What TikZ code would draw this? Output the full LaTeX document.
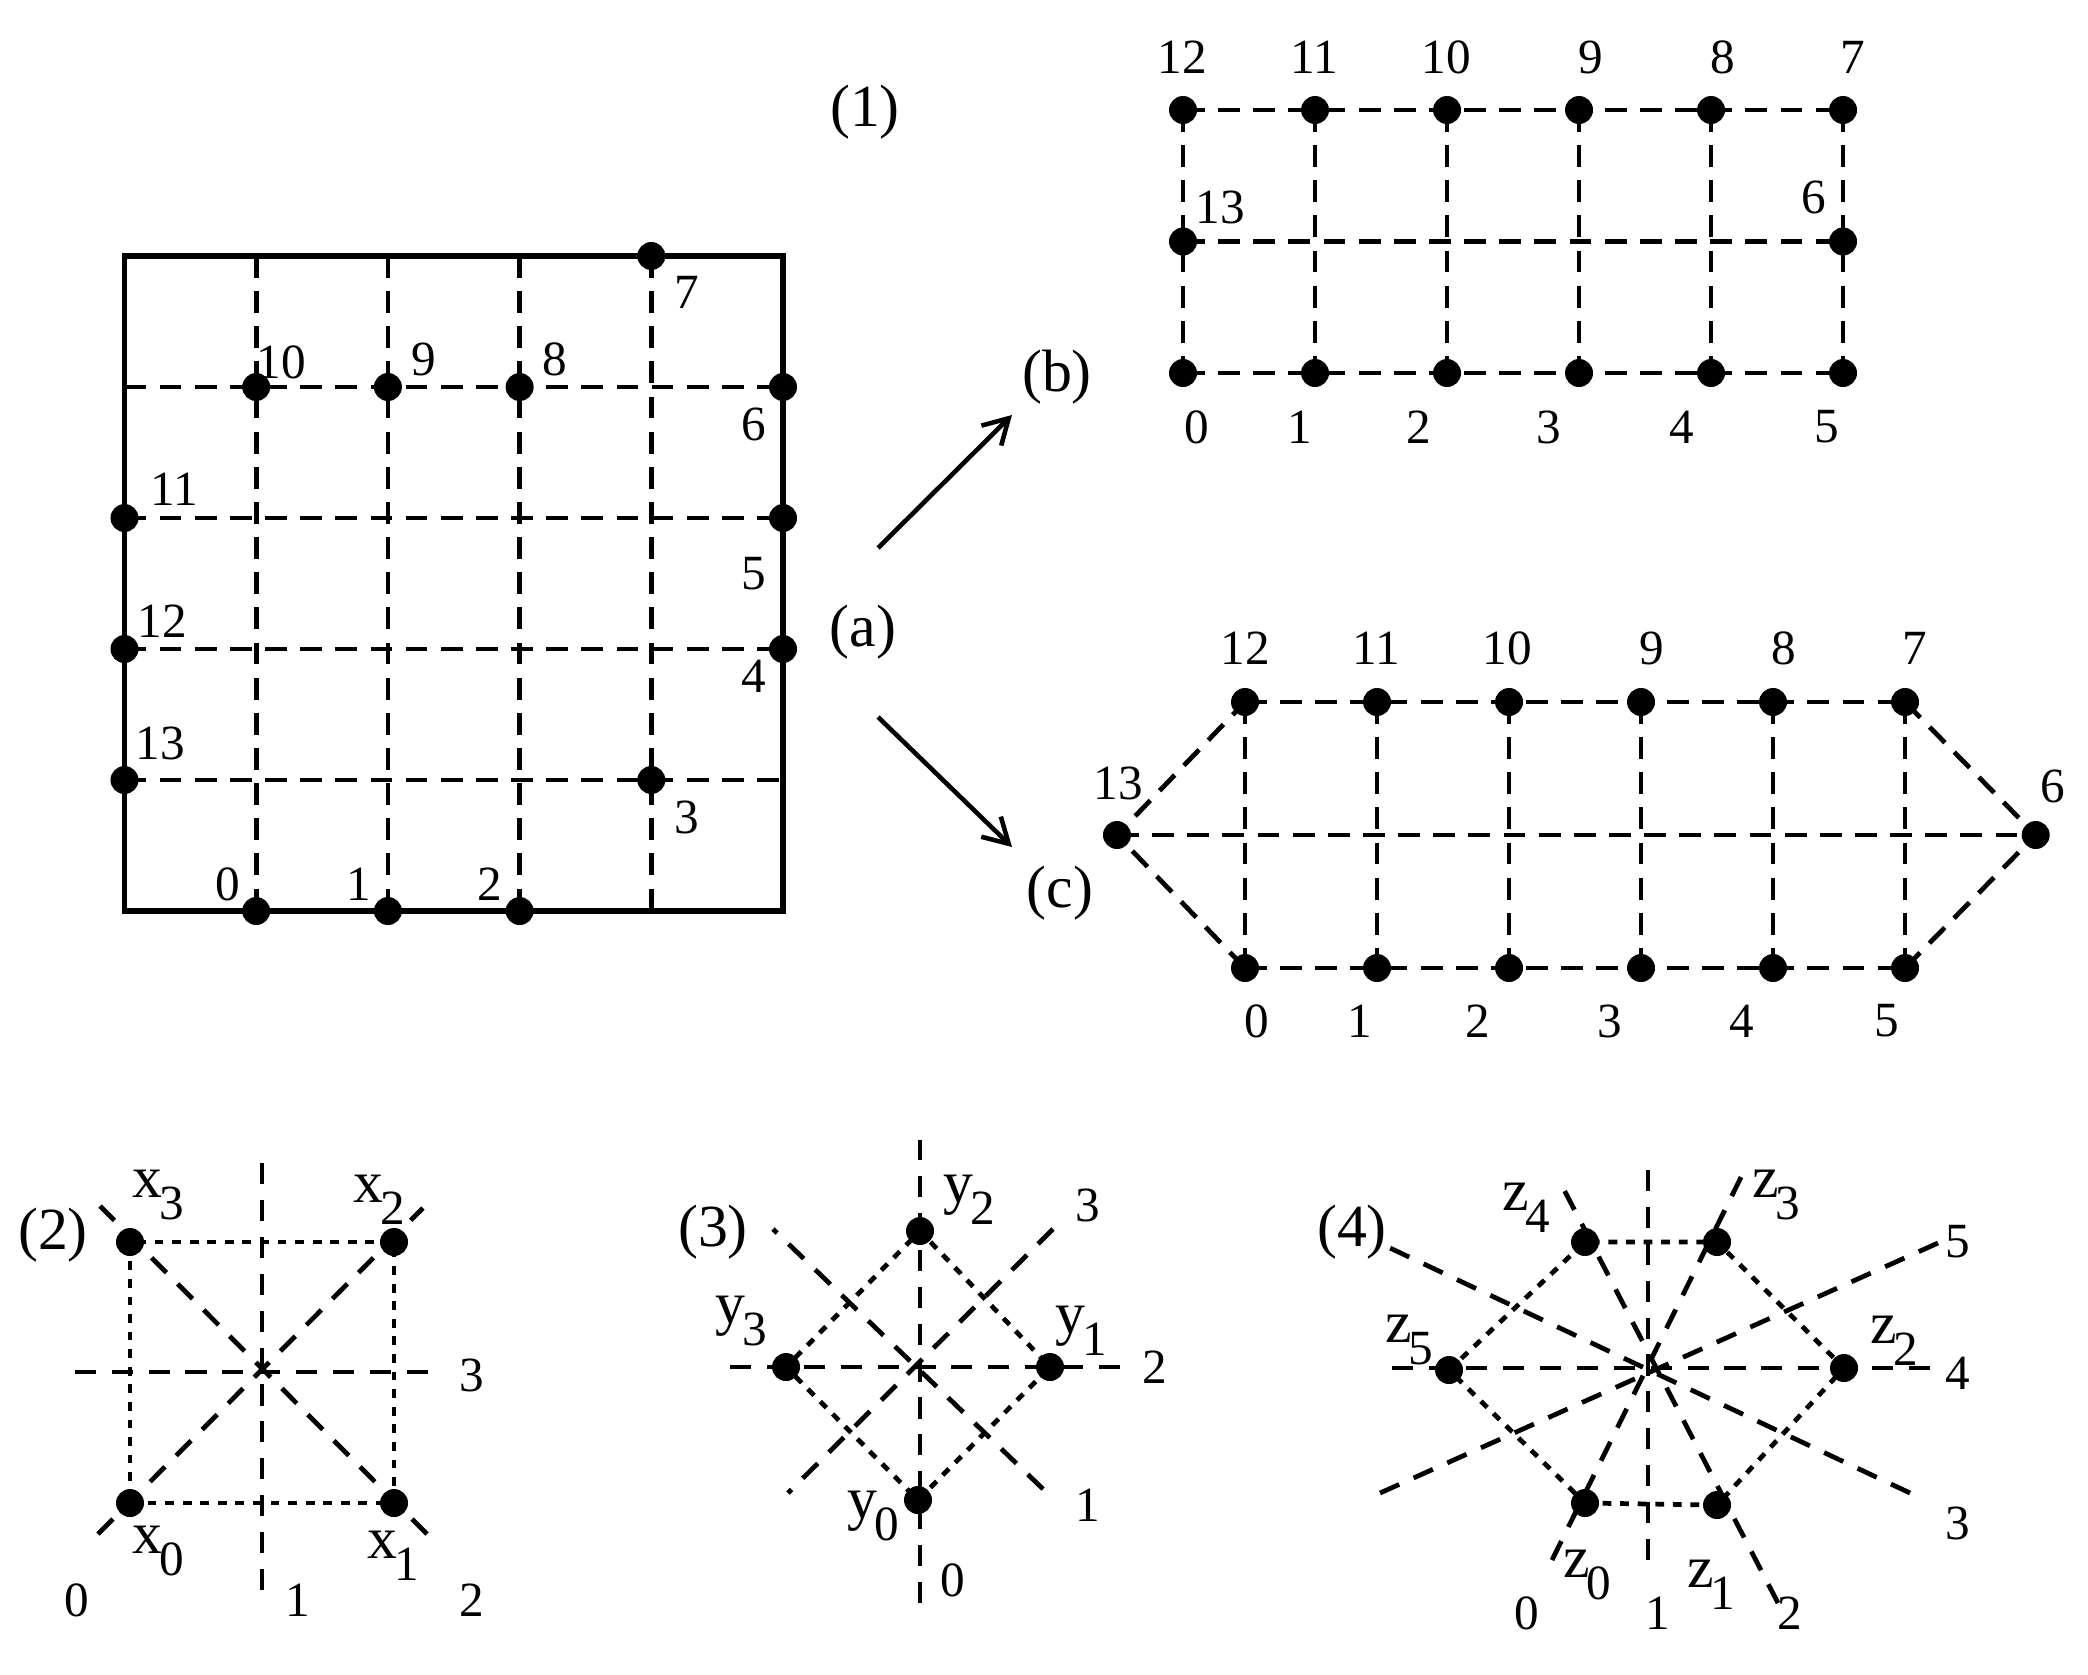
\documentclass[tikz,border=0pt]{standalone}
\usepackage{fontspec}
\setmainfont{Liberation Serif}
\usetikzlibrary{arrows.meta}
\newcommand\ssub[2]{#1\kern-1pt\raisebox{-6.5pt}{\fontsize{14}{16}\selectfont #2}}

\begin{document}
\begin{tikzpicture}[x=1cm,y=-1cm,
  dotnode/.style={circle,fill,inner sep=0pt,minimum size=0.28cm},
  numlab/.style={inner sep=0pt,font=\fontsize{14}{16}\selectfont},
  panellab/.style={inner sep=0pt,font=\fontsize{17}{19}\selectfont},
  sublab/.style={inner sep=0pt,anchor=base west,font=\fontsize{17}{19}\selectfont},
  frameln/.style={line width=1.6pt},
  gridln/.style={line width=1.35pt,dash pattern=on 6.2pt off 3.8pt},
  rayln/.style={line width=1.35pt,dash pattern=on 6pt off 4.5pt},
  linkln/.style={line width=1.35pt,dash pattern=on 2.5pt off 2.5pt},
  arrln/.style={line width=1.3pt,-{Straight Barb[length=7pt,width=8pt]}}]
  \useasboundingbox (0,0) rectangle (20.88,16.74);

  % (1) square lattice with the boundary points
  \begin{scope}[shift={(1.245,2.56)},x=1.317cm,y=-1.31cm]
    \coordinate (sqA) at (0,0);
    \coordinate (sqB) at (5,5);
    \draw[frameln] (sqA) rectangle (sqB);
    \foreach \k in {1,...,4}{
      \coordinate (top\k) at (\k,0);
      \coordinate (bot\k) at (\k,5);
      \coordinate (lft\k) at (0,\k);
      \coordinate (rgt\k) at (5,\k);
      \draw[gridln] (top\k) -- (bot\k);
      \draw[gridln] (lft\k) -- (rgt\k);
    }
    \foreach \n/\i/\j in {0/1/5,1/2/5,2/3/5,3/4/4,4/5/3,5/5/2,6/5/1,
      7/4/0,8/3/1,9/2/1,10/1/1,11/0/2,12/0/3,13/0/4}
      \node[dotnode] (a\n) at (\i,\j) {};
  \end{scope}
  \foreach \n/\x/\y in {0/2.28/8.84,1/3.59/8.84,2/4.90/8.84,3/6.87/8.17,
    4/7.54/6.76,5/7.54/5.74,6/7.54/4.24,7/6.87/2.92,8/5.55/3.59,
    9/4.24/3.59,10/2.81/3.62,11/1.74/4.89,12/1.62/6.21,13/1.60/7.43}
    \node[numlab] (la\n) at (\x,\y) {\n};

  \node[panellab] (t1) at (8.65,1.12) {(1)};
  \node[panellab] (ta) at (8.63,6.32) {(a)};
  \node[panellab] (tb) at (10.57,3.77) {(b)};
  \node[panellab] (tc) at (10.60,8.93) {(c)};
  \coordinate (ab0) at (8.78,5.48);
  \coordinate (ab1) at (10.12,4.15);
  \coordinate (ac0) at (8.78,7.17);
  \coordinate (ac1) at (10.12,8.47);
  \draw[arrln] (ab0) -- (ab1);
  \draw[arrln] (ac0) -- (ac1);

  % (b) rectangle
  \begin{scope}[shift={(11.83,1.10)},x=1.32cm,y=-1.315cm]
    \foreach \k [evaluate=\k as \t using int(12-\k)] in {0,...,5}{
      \node[dotnode] (b\t) at (\k,0) {};
      \node[dotnode] (b\k) at (\k,2) {};
      \draw[gridln] (b\t.center) -- (b\k.center);
    }
    \node[dotnode] (b13) at (0,1) {};
    \node[dotnode] (b6) at (5,1) {};
  \end{scope}
  \draw[gridln] (b12.center) -- (b7.center);
  \draw[gridln] (b13.center) -- (b6.center);
  \draw[gridln] (b0.center) -- (b5.center);
  \foreach \n/\x/\y in {12/11.82/0.57,11/13.14/0.57,10/14.46/0.57,9/15.91/0.57,
    8/17.23/0.57,7/18.53/0.57,0/11.97/4.27,1/13.00/4.27,2/14.19/4.27,
    3/15.49/4.27,4/16.82/4.27,5/18.27/4.27,13/12.20/2.07,6/18.14/1.97}
    \node[numlab] (lb\n) at (\x,\y) {\n};

  % (c) hexagon
  \begin{scope}[shift={(12.45,7.02)},x=1.32cm,y=-1.33cm]
    \foreach \k [evaluate=\k as \t using int(12-\k)] in {0,...,5}{
      \node[dotnode] (c\t) at (\k,0) {};
      \node[dotnode] (c\k) at (\k,2) {};
      \draw[gridln] (c\t.center) -- (c\k.center);
    }
    \node[dotnode] (c13) at (-0.97,1) {};
    \node[dotnode] (c6) at (5.99,1) {};
  \end{scope}
  \draw[gridln] (c12.center) -- (c7.center);
  \draw[gridln] (c13.center) -- (c6.center);
  \draw[gridln] (c0.center) -- (c5.center);
  \draw[gridln] (c0.center) -- (c13.center) -- (c12.center);
  \draw[gridln] (c7.center) -- (c6.center) -- (c5.center);
  \foreach \n/\x/\y in {12/12.45/6.48,11/13.76/6.48,10/15.07/6.48,9/16.52/6.48,
    8/17.84/6.48,7/19.15/6.48,0/12.57/10.21,1/13.60/10.21,2/14.78/10.21,
    3/16.10/10.21,4/17.42/10.21,5/18.87/10.21,13/11.18/7.83,6/20.53/7.86}
    \node[numlab] (lc\n) at (\x,\y) {\n};

  % (2) four points
  \node[panellab] (t2) at (0.53,12.35) {(2)};
  \foreach \n/\x/\y in {0/1.30/15.03,1/3.94/15.03,2/3.94/12.42,3/1.30/12.42}
    \node[dotnode] (x\n) at (\x,\y) {};
  \foreach \k/\xa/\ya/\xb/\yb in {0/0.98/15.34/4.23/12.08,1/2.62/15.90/2.62/11.63,
    2/4.27/15.34/1.00/12.06,3/4.28/13.72/0.67/13.72}{
    \coordinate (xu\k) at (\xa,\ya);
    \coordinate (xv\k) at (\xb,\yb);
    \draw[rayln] (xu\k) -- (xv\k);
  }
  \draw[linkln] (x0.center) -- (x1.center) -- (x2.center) -- (x3.center) -- cycle;
  \foreach \n/\x/\y in {0/1.32/15.53,1/3.67/15.58,2/3.53/12.02,3/1.32/11.97}
    \node[sublab] (lx\n) at (\x,\y) {\ssub{x}{\n}};
  \foreach \n/\x/\y in {0/0.77/16.00,1/2.98/16.00,2/4.72/16.00,3/4.72/13.75}
    \node[numlab] (dx\n) at (\x,\y) {\n};

  % (3) rotated square
  \node[panellab] (t3) at (7.13,12.32) {(3)};
  \foreach \n/\x/\y in {0/9.18/15.00,1/10.50/13.67,2/9.20/12.31,3/7.86/13.67}
    \node[dotnode] (y\n) at (\x,\y) {};
  \foreach \k/\xa/\ya/\xb/\yb in {0/9.20/16.03/9.20/11.40,1/10.43/14.89/7.73/12.29,
    2/11.20/13.67/7.22/13.67,3/10.53/12.29/7.88/14.93}{
    \coordinate (yu\k) at (\xa,\ya);
    \coordinate (yv\k) at (\xb,\yb);
    \draw[rayln] (yu\k) -- (yv\k);
  }
  \draw[linkln] (y0.center) -- (y1.center) -- (y2.center) -- (y3.center) -- cycle;
  \foreach \n/\x/\y in {0/8.47/15.18,1/10.55/13.33,2/9.43/12.02,3/7.15/13.23}
    \node[sublab] (ly\n) at (\x,\y) {\ssub{y}{\n}};
  \foreach \n/\x/\y in {0/9.53/15.80,1/10.88/15.05,2/11.55/13.67,3/10.88/12.05}
    \node[numlab] (dy\n) at (\x,\y) {\n};

  % (4) six points
  \node[panellab] (t4) at (13.52,12.32) {(4)};
  \foreach \n/\x/\y in {0/15.85/15.03,1/17.17/15.05,2/18.44/13.68,
    3/17.17/12.42,4/15.85/12.42,5/14.49/13.70}
    \node[dotnode] (z\n) at (\x,\y) {};
  \foreach \k/\xa/\ya/\xb/\yb in {0/15.52/15.60/17.48/11.63,1/16.48/15.60/16.48/11.63,
    2/17.78/16.03/15.60/11.82,3/19.10/14.93/13.90/12.48,
    4/19.30/13.68/13.80/13.68,5/19.38/12.43/13.80/14.93}{
    \coordinate (zu\k) at (\xa,\ya);
    \coordinate (zv\k) at (\xb,\yb);
    \draw[rayln] (zu\k) -- (zv\k);
  }
  \draw[linkln] (z0.center) -- (z1.center) -- (z2.center) -- (z3.center)
    -- (z4.center) -- (z5.center) -- cycle;
  \foreach \n/\x/\y in {0/15.63/15.77,1/16.87/15.87,2/18.70/13.43,
    3/17.52/11.97,4/15.02/12.10,5/13.85/13.42}
    \node[sublab] (lz\n) at (\x,\y) {\ssub{z}{\n}};
  \foreach \n/\x/\y in {0/15.27/16.13,1/16.58/16.13,2/17.90/16.13,
    3/19.58/15.23,4/19.58/13.73,5/19.58/12.42}
    \node[numlab] (dz\n) at (\x,\y) {\n};
\end{tikzpicture}
\end{document}
